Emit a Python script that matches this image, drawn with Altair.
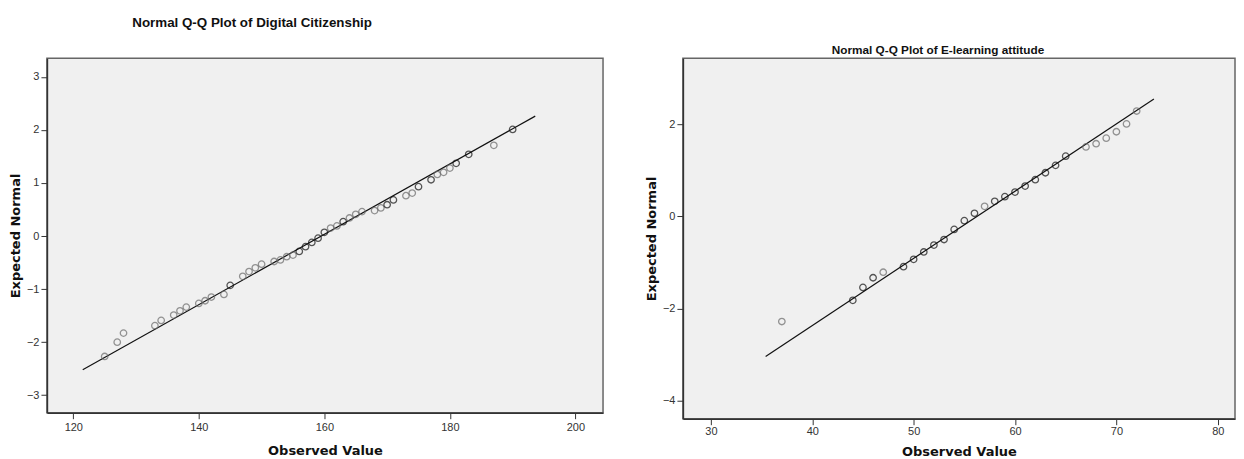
import altair as alt
import pandas as pd

# ---- Digital Citizenship (left panel) ----
dc_observed = [125, 127, 128, 133, 134, 136, 137, 138, 140, 141, 142, 144, 145, 147, 148,
               149, 150, 152, 153, 154, 155, 156, 157, 158, 159, 160, 161, 162, 163, 164,
               165, 166, 168, 169, 170, 171, 173, 174, 175, 177, 178, 179, 180, 181, 183,
               187, 190]
dc_expected = [-2.27, -2.00, -1.83, -1.69, -1.59, -1.49, -1.41, -1.34, -1.27, -1.22, -1.15,
               -1.10, -0.93, -0.76, -0.67, -0.60, -0.53, -0.48, -0.45, -0.39, -0.36, -0.29,
               -0.20, -0.12, -0.04, 0.07, 0.15, 0.19, 0.27, 0.34, 0.41, 0.46, 0.48, 0.53,
               0.59, 0.68, 0.76, 0.81, 0.93, 1.06, 1.16, 1.20, 1.28, 1.37, 1.54, 1.71, 2.01]
dc_multi = [0, 0, 0, 0, 0, 0, 0, 0, 0, 0, 0, 0, 1, 0, 0, 0, 0, 0, 0, 0, 0, 1, 1, 1, 1, 1,
            0, 0, 1, 0, 0, 0, 0, 0, 1, 1, 0, 0, 1, 1, 0, 0, 0, 1, 1, 0, 1]
dc_line_x = [121.5, 193.6]
dc_line_y = [-2.52, 2.26]

# ---- E-learning attitude (right panel) ----
el_observed = [37, 44, 45, 46, 47, 49, 50, 51, 52, 53, 54, 55, 56, 57, 58, 59, 60, 61, 62,
               63, 64, 65, 67, 68, 69, 70, 71, 72]
el_expected = [-2.28, -1.82, -1.54, -1.33, -1.21, -1.09, -0.93, -0.77, -0.62, -0.50, -0.28,
               -0.09, 0.07, 0.22, 0.33, 0.43, 0.53, 0.66, 0.80, 0.95, 1.11, 1.31, 1.51, 1.58,
               1.70, 1.84, 2.01, 2.29]
el_multi = [0, 1, 1, 1, 0, 1, 1, 1, 1, 1, 1, 1, 1, 0, 1, 1, 1, 1, 1, 1, 1, 1, 0, 0, 0, 0,
            0, 0]
el_line_x = [35.4, 73.7]
el_line_y = [-3.04, 2.55]

dc_ticks_x = [120, 140, 160, 180, 200]
dc_ticks_y = [-3, -2, -1, 0, 1, 2, 3]
el_ticks_x = [30, 40, 50, 60, 70, 80]
el_ticks_y = [-4, -2, 0, 2]

TICK_FONT = "Liberation Sans"
TITLE_FONT = "DejaVu Sans"


def panel(obs, exp, multi, lx, ly, xdom, ydom, xticks, yticks, title, w, h,
          xlabpad, xtitlepad, ytitlepad):
    pts = pd.DataFrame({"obs": obs, "exp": exp, "multi": multi})
    ln = pd.DataFrame({"obs": lx, "exp": ly})
    xaxis = alt.Axis(values=xticks, title="Observed Value", grid=False, tickSize=6,
                     labelPadding=xlabpad, titlePadding=xtitlepad, labelFont=TICK_FONT,
                     labelFontSize=11, labelColor="#333", titleFont=TITLE_FONT,
                     titleFontSize=13, titleFontWeight="bold", titleColor="#111",
                     domainColor="#333", domainWidth=1.5, tickColor="#333")
    yaxis = alt.Axis(values=yticks, title="Expected Normal", grid=False, tickSize=6,
                     labelPadding=2, titlePadding=ytitlepad, labelFont=TICK_FONT,
                     labelFontSize=11, labelColor="#333", titleFont=TITLE_FONT,
                     titleFontSize=13, titleFontWeight="bold", titleColor="#111",
                     domainColor="#333", domainWidth=1.5, tickColor="#333")
    x = alt.X("obs:Q", scale=alt.Scale(domain=xdom, nice=False, zero=False), axis=xaxis)
    y = alt.Y("exp:Q", scale=alt.Scale(domain=ydom, nice=False, zero=False), axis=yaxis)
    line = alt.Chart(ln).mark_line(color="#111", strokeWidth=1.2).encode(x=x, y=y)
    points = alt.Chart(pts).mark_point(shape="circle", filled=False, size=42,
                                       strokeWidth=1.3).encode(
        x=x, y=y,
        color=alt.Color("multi:O", scale=alt.Scale(domain=[0, 1], range=["#6a6a6a", "#111111"]),
                        legend=None))
    return alt.layer(line, points).properties(width=w, height=h, title=title)


left = panel(dc_observed, dc_expected, dc_multi, dc_line_x, dc_line_y,
             [115.8, 204.4], [-3.33, 3.35], dc_ticks_x, dc_ticks_y,
             alt.TitleParams("Normal Q-Q Plot of Digital Citizenship", font="Liberation Sans",
                             fontSize=13.4, fontWeight="bold", color="#111", anchor="middle",
                             dx=-73, offset=29),
             557, 355, 3, 12, 4)
right = panel(el_observed, el_expected, el_multi, el_line_x, el_line_y,
              [27.24, 81.7], [-4.39, 3.435], el_ticks_x, el_ticks_y,
              alt.TitleParams("Normal Q-Q Plot of E-learning attitude", font="Liberation Sans",
                              fontSize=11.8, fontWeight="bold", color="#111", anchor="middle",
                              dx=-21, offset=1),
              553, 361, 1, 9, 4)

chart = alt.hconcat(left, right, spacing=40).properties(
    padding={"left": 0, "top": 6, "right": 0, "bottom": 0},
    background="white",
).configure_view(fill="#F0F0F0", stroke="#666", strokeWidth=1.5)

chart.save("out.html", embed_options={"renderer": "svg", "actions": False})
